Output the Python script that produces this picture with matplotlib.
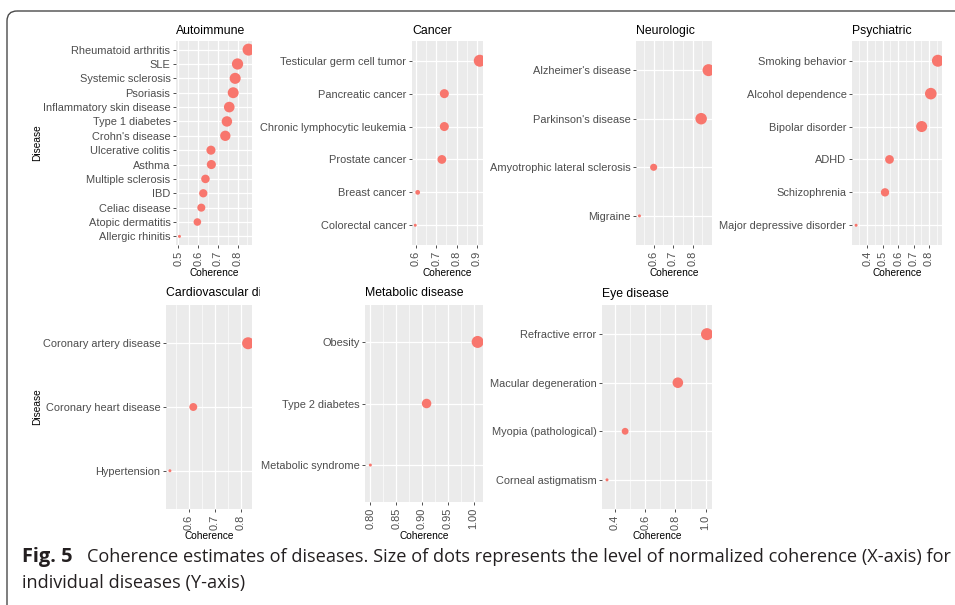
import numpy as np
import matplotlib
matplotlib.use("Agg")
import matplotlib.pyplot as plt
from matplotlib.patches import FancyBboxPatch, Rectangle
from matplotlib.ticker import MultipleLocator, FormatStrFormatter

plt.rcParams['font.family'] = ['Liberation Sans', 'DejaVu Sans']

# coherence per disease, listed top to bottom as shown in each panel
autoimmune_names = ["Rheumatoid arthritis", "SLE", "Systemic sclerosis", "Psoriasis",
                    "Inflammatory skin disease", "Type 1 diabetes", "Crohn's disease",
                    "Ulcerative colitis", "Asthma", "Multiple sclerosis", "IBD",
                    "Celiac disease", "Atopic dermatitis", "Allergic rhinitis"]
autoimmune_vals = [0.856, 0.800, 0.788, 0.778, 0.758, 0.746, 0.738,
                   0.665, 0.667, 0.637, 0.626, 0.616, 0.596, 0.505]

cancer_names = ["Testicular germ cell tumor", "Pancreatic cancer",
                "Chronic lymphocytic leukemia", "Prostate cancer",
                "Breast cancer", "Colorectal cancer"]
cancer_vals = [0.913, 0.740, 0.740, 0.728, 0.610, 0.598]

neuro_names = ["Alzheimer's disease", "Parkinson's disease",
               "Amyotrophic lateral sclerosis", "Migraine"]
neuro_vals = [0.882, 0.844, 0.600, 0.527]

psych_names = ["Smoking behavior", "Alcohol dependence", "Bipolar disorder",
               "ADHD", "Schizophrenia", "Major depressive disorder"]
psych_vals = [0.857, 0.811, 0.752, 0.544, 0.515, 0.328]

cardio_names = ["Coronary artery disease", "Coronary heart disease", "Hypertension"]
cardio_vals = [0.829, 0.618, 0.528]

metab_names = ["Obesity", "Type 2 diabetes", "Metabolic syndrome"]
metab_vals = [1.008, 0.909, 0.800]

eye_names = ["Refractive error", "Macular degeneration",
             "Myopia (pathological)", "Corneal astigmatism"]
eye_vals = [1.009, 0.816, 0.467, 0.347]

W, H = 955, 605
fig = plt.figure(figsize=(W / 100, H / 100), dpi=100)
fig.patch.set_facecolor('white')

# full-figure canvas in pixel units for frame, titles and caption
canvas = fig.add_axes([0, 0, 1, 1], zorder=0)
canvas.set_xlim(0, W)
canvas.set_ylim(H, 0)
canvas.axis('off')

canvas.add_patch(FancyBboxPatch((7, 11), 1000, 620,
                                boxstyle='round,pad=0,rounding_size=10',
                                fill=False, ec='#4a4a4a', lw=1.0))

POINT = '#F8766D'


def panel(x0, x1, y0, y1, title, names, vals, step, fmt, title_y, xlab_y,
          ylabel=False, title_clip=None):
    ax = fig.add_axes([x0 / W, 1 - y1 / H, (x1 - x0) / W, (y1 - y0) / H], zorder=1)
    vals = np.asarray(vals, dtype=float)
    lo, hi = vals.min(), vals.max()
    pad = 0.05 * (hi - lo)
    ax.set_xlim(lo - pad, hi + pad)
    n = len(names)
    ypos = np.arange(n)[::-1]
    ax.set_ylim(-0.6, n - 1 + 0.6)

    # dot area follows the coherence rescaled within the panel
    norm = (vals - lo) / (hi - lo)
    d_px = 3 + 9 * np.sqrt(norm)
    ax.scatter(vals, ypos, s=(d_px * 0.72) ** 2, color=POINT, linewidths=0, zorder=3)

    ax.set_facecolor('#EBEBEB')
    for s in ax.spines.values():
        s.set_visible(False)
    ax.set_yticks(ypos)
    ax.set_yticklabels(names)
    ax.xaxis.set_major_locator(MultipleLocator(step))
    ax.xaxis.set_minor_locator(MultipleLocator(step / 2))
    ax.xaxis.set_major_formatter(FormatStrFormatter(fmt))
    ax.grid(which='major', color='white', lw=0.9)
    ax.grid(which='minor', axis='x', color='white', lw=0.45)
    ax.set_axisbelow(True)
    ax.tick_params(which='major', length=2.5, width=0.6, color='#333333',
                   labelsize=7.9, labelcolor='#4D4D4D', pad=1.5)
    ax.tick_params(which='minor', length=0)
    ax.tick_params(axis='x', labelrotation=90)

    t = canvas.text(x0, title_y, title, ha='left', va='center', fontsize=8.8, color='black')
    if title_clip is not None:
        t.set_clip_path(Rectangle((0, title_y - 15), title_clip, 30,
                                  transform=canvas.transData))
        t.set_clip_on(True)
    canvas.text((x0 + x1) / 2, xlab_y, "Coherence", ha='center', va='center',
                fontsize=7.3, color='black')
    if ylabel:
        canvas.text(37, (y0 + y1) / 2, "Disease", ha='center', va='center',
                    rotation=90, fontsize=7.3, color='black')
    return ax


panel(176, 252, 41, 245, "Autoimmune", autoimmune_names, autoimmune_vals,
      0.1, '%.1f', 31, 273, ylabel=True)
panel(412, 483, 41, 245, "Cancer", cancer_names, cancer_vals,
      0.1, '%.1f', 31, 273)
panel(636, 712, 41, 245, "Neurologic", neuro_names, neuro_vals,
      0.1, '%.1f', 31, 273)
panel(852, 942, 41, 245, "Psychiatric", psych_names, psych_vals,
      0.1, '%.1f', 31, 273)

panel(166, 252, 305, 509, "Cardiovascular disease", cardio_names, cardio_vals,
      0.1, '%.1f', 293, 536, ylabel=True, title_clip=260)
panel(365, 483, 305, 502, "Metabolic disease", metab_names, metab_vals,
      0.05, '%.2f', 293, 536)
panel(602, 712, 305, 509, "Eye disease", eye_names, eye_vals,
      0.2, '%.1f', 294, 536)

# figure caption; the first line is sized to run across to the right margin
cap = dict(color='#231F20', va='baseline', ha='left', family=['Open Sans', 'DejaVu Sans'])
line1 = canvas.text(87, 562, "Coherence estimates of diseases. Size of dots represents the "
                    "level of normalized coherence (X-axis) for", fontsize=12, **cap)
renderer = fig.canvas.get_renderer()
width = line1.get_window_extent(renderer).width
size = 12 * (945 - 87) / width
line1.set_fontsize(size)
canvas.text(22, 562, "Fig. 5", fontweight='bold', fontsize=size * 1.1, **cap)
canvas.text(22, 588, "individual diseases (Y-axis)", fontsize=size, **cap)

fig.savefig("out.png", dpi=100)
